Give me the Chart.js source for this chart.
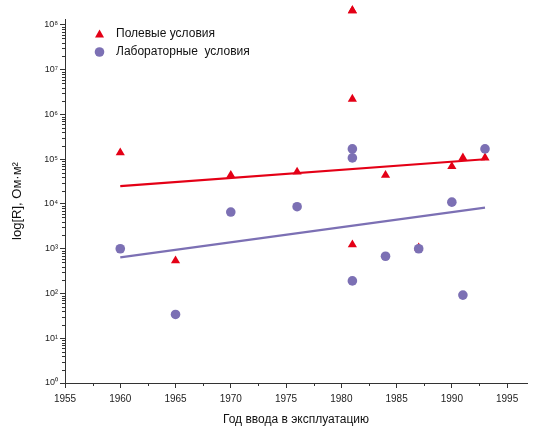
<!DOCTYPE html>
<html lang="ru">
<head>
  <meta charset="UTF-8">
  <title>log R</title>
  <script src="https://cdn.jsdelivr.net/npm/chart.js"></script>
  <style>
    body { margin: 0; background: #fff; }
  </style>
</head>
<body>
  <canvas id="grafico" width="533" height="427"></canvas>

  <script>
    // Полевые условия
    const anosCampo = [1960, 1965, 1970, 1976, 1981, 1981, 1981, 1984, 1987, 1990, 1991, 1993];
    const valoresCampo = [1.4e5, 540, 4.4e4, 5.2e4, 2.1e8, 2.2e6, 1230, 4.4e4, 1050, 6.9e4, 1.07e5, 1.07e5];

    // Лабораторные условия
    const anosLab = [1960, 1965, 1970, 1976, 1981, 1981, 1981, 1984, 1987, 1990, 1991, 1993];
    const valoresLab = [1000, 34, 6600, 8700, 1.7e5, 1.07e5, 191, 680, 1000, 1.1e4, 92, 1.7e5];

    // линии тренда (концы)
    const anosTendencia = [1960, 1993];
    const tendCampo = [2.5e4, 1.0e5];
    const tendLab = [640, 8300];

    const anosTicks = [1955, 1957.5, 1960, 1962.5, 1965, 1967.5, 1970, 1972.5, 1975, 1977.5, 1980, 1982.5, 1985, 1987.5, 1990, 1992.5, 1995];
    const potencias = [0, 1, 2, 3, 4, 5, 6, 7, 8];

    const vermelho = 'rgb(228, 0, 22)';
    const roxo = 'rgb(124, 112, 180)';
    const sup = ['⁰', '¹', '²', '³', '⁴', '⁵', '⁶', '⁷', '⁸', '⁹'];

    const pontos = (xs, ys) => xs.map((x, i) => ({ x: x, y: ys[i] }));
    const ehPotencia = v => Math.abs(Math.log10(v) - Math.round(Math.log10(v))) < 1e-9;

    // точки за пределами области (2·10⁸) + мелкие риски + легенда
    const extras = {
      id: 'extras',
      afterDatasetsDraw(chart) {
        const ctx = chart.ctx;
        const area = chart.chartArea;
        const meta = chart.getDatasetMeta(1);
        meta.data.forEach(p => {
          if (p.y < area.top - 2) {
            Chart.helpers.drawPoint(ctx, {
              pointStyle: 'triangle', radius: 5.3, rotation: 0, borderWidth: 0
            }, p.x, p.y);
            ctx.fillStyle = vermelho;
            ctx.fill();
          }
        });
      },
      afterDraw(chart) {
        const ctx = chart.ctx;
        const x = chart.scales.x, y = chart.scales.y;
        ctx.save();
        ctx.strokeStyle = '#333';
        ctx.lineWidth = 1;
        ctx.beginPath();
        x.ticks.forEach(t => {
          if (t.value % 5 !== 0) {
            const px = Math.round(x.getPixelForValue(t.value)) + 0.5;
            ctx.moveTo(px, x.top);
            ctx.lineTo(px, x.top + 3);
          }
        });
        y.ticks.forEach(t => {
          if (!ehPotencia(t.value)) {
            const py = Math.round(y.getPixelForValue(t.value)) + 0.5;
            ctx.moveTo(y.right, py);
            ctx.lineTo(y.right - 3, py);
          }
        });
        ctx.stroke();

        // легенда
        ctx.fillStyle = vermelho;
        ctx.beginPath();
        ctx.moveTo(99.5, 29.5);
        ctx.lineTo(104, 37.5);
        ctx.lineTo(95, 37.5);
        ctx.closePath();
        ctx.fill();
        ctx.fillStyle = roxo;
        ctx.beginPath();
        ctx.arc(99.5, 52, 4.8, 0, Math.PI * 2);
        ctx.fill();
        ctx.fillStyle = '#111';
        ctx.font = '12px "Liberation Sans", Arial, sans-serif';
        ctx.textBaseline = 'middle';
        ctx.fillText('Полевые условия', 116, 34);
        ctx.fillText('Лабораторные  условия', 116, 52);
        ctx.restore();
      }
    };

    const ctx = document.getElementById('grafico').getContext('2d');
    new Chart(ctx, {
      type: 'scatter',
      data: {
        datasets: [
          {
            label: 'Лабораторные  условия',
            data: pontos(anosLab, valoresLab),
            backgroundColor: roxo,
            borderWidth: 0,
            pointStyle: 'circle',
            pointRadius: 4.8,
            order: 0
          },
          {
            label: 'Полевые условия',
            data: pontos(anosCampo, valoresCampo),
            backgroundColor: vermelho,
            borderWidth: 0,
            pointStyle: 'triangle',
            pointRadius: 5.3,
            clip: false,
            order: 1
          },
          {
            data: pontos(anosTendencia, tendCampo),
            showLine: true,
            borderColor: vermelho,
            borderWidth: 2.2,
            pointRadius: 0,
            order: 2
          },
          {
            data: pontos(anosTendencia, tendLab),
            showLine: true,
            borderColor: roxo,
            borderWidth: 2.2,
            pointRadius: 0,
            order: 2
          }
        ]
      },
      options: {
        responsive: false,
        animation: false,
        layout: { padding: { top: 19, right: 6, left: 0, bottom: 0 } },
        plugins: {
          legend: { display: false },
          tooltip: { enabled: false }
        },
        scales: {
          x: {
            type: 'linear',
            min: 1955,
            max: 1996.8,
            afterFit: s => { s.height = 44; },
            afterBuildTicks: s => { s.ticks = anosTicks.map(v => ({ value: v })); },
            grid: {
              drawOnChartArea: false,
              tickLength: 5,
              tickColor: c => (c.tick && c.tick.value % 5 === 0) ? '#333' : 'rgba(0,0,0,0)'
            },
            border: { color: '#333', width: 1 },
            ticks: {
              padding: 5,
              maxRotation: 0,
              autoSkip: false,
              color: '#222',
              font: { family: '"Liberation Sans", Arial, sans-serif', size: 10 },
              callback: v => (v % 5 === 0 ? String(v) : '')
            },
            title: {
              display: true,
              text: 'Год ввода в эксплуатацию',
              color: '#111',
              font: { family: '"Liberation Sans", Arial, sans-serif', size: 12 },
              padding: { top: 3, bottom: 0 }
            }
          },
          y: {
            type: 'logarithmic',
            min: 1,
            max: 1.36e8,
            afterFit: s => { s.width = 65; },
            afterBuildTicks: s => {
              const lista = [];
              potencias.forEach(p => {
                for (let m = 1; m <= 9; m++) {
                  const v = m * Math.pow(10, p);
                  if (v <= 1.36e8) lista.push({ value: v });
                }
              });
              s.ticks = lista;
            },
            grid: {
              drawOnChartArea: false,
              tickLength: 5,
              tickColor: c => (c.tick && ehPotencia(c.tick.value)) ? '#333' : 'rgba(0,0,0,0)'
            },
            border: { color: '#333', width: 1 },
            ticks: {
              padding: 2,
              autoSkip: false,
              color: '#222',
              font: { family: '"Liberation Sans", Arial, sans-serif', size: 9 },
              callback: v => ehPotencia(v) ? '10' + sup[Math.round(Math.log10(v))] : ''
            },
            title: {
              display: true,
              text: 'log[R], Ом·м²',
              color: '#111',
              font: { family: '"Liberation Sans", Arial, sans-serif', size: 13 },
              padding: { top: 10, bottom: 0 }
            }
          }
        }
      },
      plugins: [extras]
    });
  </script>
</body>
</html>
